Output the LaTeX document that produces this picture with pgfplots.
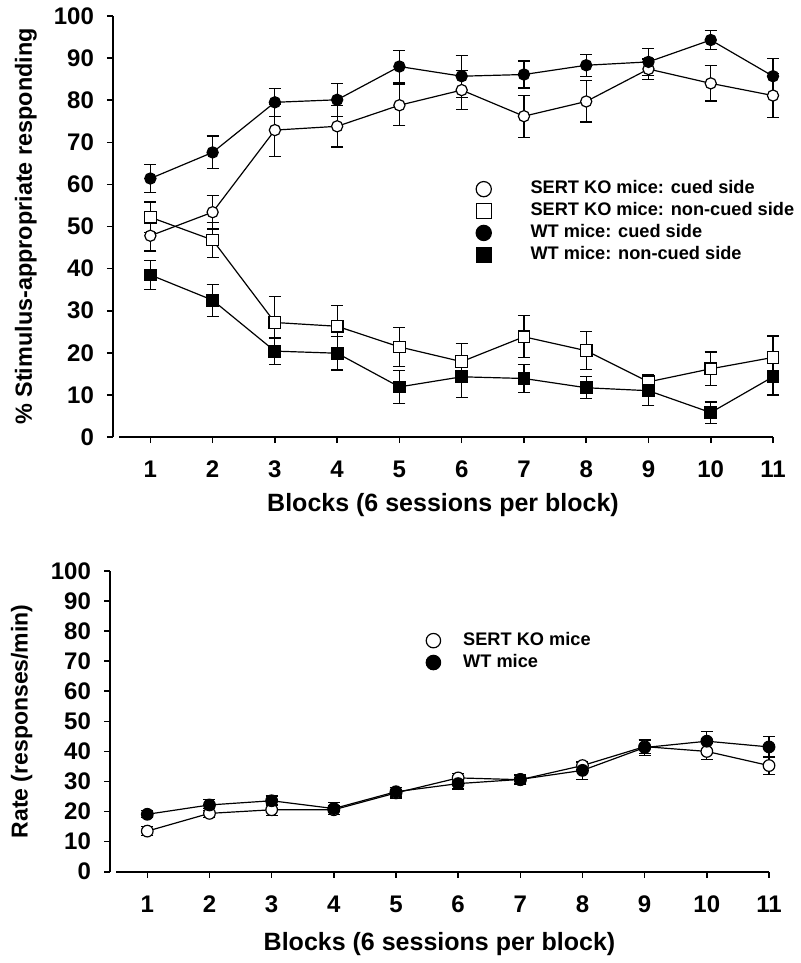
\documentclass[border=0pt]{standalone}
\usepackage{fontspec}
\setmainfont{Liberation Sans}
\usepackage{pgfplots}
\pgfplotsset{compat=1.18}

\pgfplotsset{
  panel/.style={
    scale only axis,
    axis x line=bottom, axis y line=left,
    axis line style={-, line width=0.8pt},
    x axis line style={shorten <=3pt},
    tick align=outside, major tick length=3pt,
    tick style={line width=0.8pt, black},
    xmin=0.4, xmax=11, ymin=0, ymax=100,
    xtick={1,...,11}, ytick={0,10,...,100},
    /pgf/number format/assume math mode=true,
    tick label style={font=\bfseries\fontsize{12}{14}\selectfont},
    xticklabel style={yshift=-5.5pt},
    yticklabel style={xshift=-3pt},
    legend style={draw=none, fill=none,
      anchor=north west, row sep=1.35pt,
      nodes={inner sep=0.6pt, text height=6.6pt, text depth=1.8pt}},
    legend cell align=left,
    clip=false,
  },
  pt/.style={line width=0.6pt, black, mark size=2.8pt,
    mark options={line width=0.6pt, solid},
    error bars/y dir=both, error bars/y explicit,
    error bars/error bar style={line width=0.6pt},
    error bars/error mark options={rotate=90, mark size=3pt, line width=0.6pt}},
  oc/.style={pt, mark=*, mark options={fill=white}},
  fc/.style={pt, mark=*, mark options={fill=black}},
  os/.style={pt, mark=square*, mark options={fill=white}},
  fs/.style={pt, mark=square*, mark options={fill=black}},
}

\begin{document}
\begin{tikzpicture}
\useasboundingbox (0,0) rectangle (400pt,-481.5pt);

% top panel
\begin{axis}[panel,
  width=330pt, height=210.5pt,
  at={(56.5pt,-218.5pt)}, anchor=south west,
  ylabel={\% Stimulus-appropriate responding},
  xlabel={Blocks (6 sessions per block)},
  every axis y label/.style={at={(axis description cs:-0.132,0.5)}, rotate=90, anchor=center,
    font=\bfseries\fontsize{11.7}{14}\selectfont},
  every axis x label/.style={at={(axis description cs:0.5,-0.162)}, anchor=center,
    font=\bfseries\fontsize{12.5}{14}\selectfont},
  legend style={at={(rel axis cs:0.539,0.622)}, font=\bfseries\fontsize{9.1}{10}\selectfont},
  legend image code/.code={\draw[#1, only marks, mark size=3.8pt] plot coordinates {(0pt,0pt)}; \path (-4pt,0pt) (22.5pt,0pt);},
]
\addplot[oc, mark size=2.8pt] coordinates {
  (1,47.8) +- (0,3.6) (2,53.4) +- (0,4.0) (3,72.9) +- (0,6.2) (4,73.8) +- (0,4.9)
  (5,78.8) +- (0,4.9) (6,82.4) +- (0,4.7) (7,76.2) +- (0,5.0) (8,79.7) +- (0,4.9)
  (9,87.4) +- (0,2.4) (10,84.0) +- (0,4.2) (11,81.1) +- (0,5.2)};
\addlegendentry{SERT KO mice: cued side}
\addplot[os, mark size=2.9pt] coordinates {
  (1,52.2) +- (0,3.6) (2,46.8) +- (0,4.2) (3,27.2) +- (0,6.2) (4,26.3) +- (0,5.0)
  (5,21.4) +- (0,4.7) (6,17.9) +- (0,4.4) (7,23.8) +- (0,5.0) (8,20.5) +- (0,4.5)
  (9,13.1) +- (0,1.8) (10,16.2) +- (0,4.0) (11,18.9) +- (0,5.1)};
\addlegendentry{SERT KO mice: non-cued side}
\addplot[fc, mark size=2.8pt] coordinates {
  (1,61.4) +- (0,3.3) (2,67.6) +- (0,3.9) (3,79.5) +- (0,3.3) (4,80.1) +- (0,3.9)
  (5,88.0) +- (0,3.9) (6,85.7) +- (0,5.0) (7,86.1) +- (0,3.2) (8,88.3) +- (0,2.6)
  (9,89.1) +- (0,3.2) (10,94.3) +- (0,2.3) (11,85.7) +- (0,4.3)};
\addlegendentry{WT mice: cued side}
\addplot[fs, mark size=2.9pt] coordinates {
  (1,38.5) +- (0,3.4) (2,32.5) +- (0,3.8) (3,20.4) +- (0,3.1) (4,19.9) +- (0,4.0)
  (5,11.9) +- (0,3.9) (6,14.3) +- (0,5.0) (7,13.9) +- (0,3.3) (8,11.7) +- (0,2.6)
  (9,11.0) +- (0,3.5) (10,5.8) +- (0,2.5) (11,14.3) +- (0,4.3)};
\addlegendentry{WT mice: non-cued side}
\end{axis}

% bottom panel
\begin{axis}[panel,
  width=329.5pt, height=150.35pt,
  at={(55pt,-435.85pt)}, anchor=south west,
  ylabel={Rate (responses/min)},
  xlabel={Blocks (6 sessions per block)},
  every axis y label/.style={at={(axis description cs:-0.134,0.5)}, rotate=90, anchor=center,
    font=\bfseries\fontsize{11.5}{14}\selectfont},
  every axis x label/.style={at={(axis description cs:0.5,-0.242)}, anchor=center,
    font=\bfseries\fontsize{12.5}{14}\selectfont},
  legend style={at={(rel axis cs:0.468,0.815)}, font=\bfseries\fontsize{9.1}{10}\selectfont},
  legend image code/.code={\draw[#1, only marks, mark size=3.6pt] plot coordinates {(0pt,0pt)}; \path (-4pt,0pt) (14pt,0pt);},
]
\addplot[oc, mark size=2.9pt] coordinates {
  (1,13.5) +- (0,1.5) (2,19.4) +- (0,1.5) (3,20.6) +- (0,1.8) (4,20.6) +- (0,1.5)
  (5,26.2) +- (0,1.7) (6,31.2) +- (0,1.5) (7,30.6) +- (0,1.5) (8,35.3) +- (0,1.2)
  (9,41.6) +- (0,2.2) (10,40.0) +- (0,2.8) (11,35.3) +- (0,3.0)};
\addlegendentry{SERT KO mice}
\addplot[fc, mark size=2.9pt] coordinates {
  (1,19.1) +- (0,1.2) (2,22.2) +- (0,1.8) (3,23.6) +- (0,1.6) (4,21.0) +- (0,2.0)
  (5,26.6) +- (0,1.5) (6,29.3) +- (0,1.8) (7,30.7) +- (0,1.5) (8,33.7) +- (0,3.0)
  (9,41.3) +- (0,2.6) (10,43.4) +- (0,3.3) (11,41.5) +- (0,3.5)};
\addlegendentry{WT mice}
\end{axis}
\end{tikzpicture}
\end{document}
